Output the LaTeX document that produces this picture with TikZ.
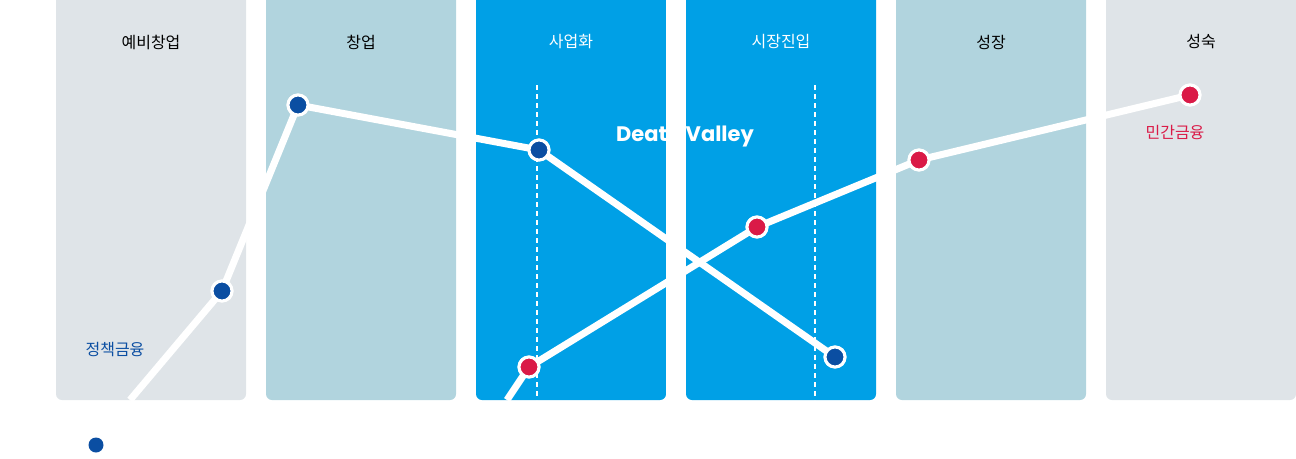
\documentclass[tikz,border=0pt]{standalone}
\usepackage{fontspec}
\setmainfont{Noto Sans CJK KR}
\newfontfamily\popfont{Poppins}
\definecolor{cgray}{HTML}{DFE4E8}
\definecolor{clblue}{HTML}{B1D4DE}
\definecolor{cblue}{HTML}{00A0E6}
\definecolor{dotblue}{HTML}{0B4EA2}
\definecolor{dotred}{HTML}{DA1A47}
\begin{document}
\begin{tikzpicture}[x=1pt,y=-1pt,
  col/.style={rounded corners=6pt},
  hdr/.style={font=\fontsize{16}{18}\selectfont},
  wline/.style={white,line width=7pt},
  bdot/.style={circle,fill=dotblue,draw=white,line width=3pt,minimum size=20pt,inner sep=0pt},
  rdot/.style={circle,fill=dotred,draw=white,line width=3pt,minimum size=20pt,inner sep=0pt},
  dline/.style={white,dashed,line width=1.2pt,dash pattern=on 5pt off 4pt}]
\useasboundingbox (0,0) rectangle (1296,458);
\foreach \x/\c/\t/\tc [count=\i] in {56/cgray/예비창업/black,266/clblue/창업/black,476/cblue/사업화/white,686/cblue/시장진입/white,896/clblue/성장/black,1106/cgray/성숙/black}{
  \fill[\c,col] (\x,-10) rectangle (\x+190,400);
  \node[hdr,text=\tc] (h\i) at (\x+95,42) {\t};
}
\draw[dline] (537,85) -- (537,400);
\draw[dline] (815,85) -- (815,400);
\node[font=\popfont\bfseries\fontsize{21}{24}\selectfont,text=white] (dv) at (685,137) {Death Valley};
\fill[white] (666,0) rectangle (686,400);
\coordinate (b0) at (130,400);
\node[bdot] (b1) at (222,291) {};
\node[bdot] (b2) at (298,105) {};
\node[bdot] (b3) at (539,150) {};
\node[bdot] (b4) at (835,357) {};
\coordinate (r0) at (507,400);
\node[rdot] (r1) at (529,367) {};
\node[rdot] (r2) at (757,227) {};
\node[rdot] (r3) at (919,160) {};
\node[rdot] (r4) at (1190,95) {};
\begin{scope}[on background layer/.style={}]
\draw[wline] (b0) -- (b1.center) -- (b2.center) -- (b3.center) -- (b4.center);
\draw[wline] (r0) -- (r1.center) -- (r2.center) -- (r3.center) -- (r4.center);
\end{scope}
\foreach \n/\p/\s in {b1/222,291/bdot,b2/298,105/bdot,b3/539,150/bdot,b4/835,357/bdot}{}
\node[bdot] at (b1) {};
\node[bdot] at (b2) {};
\node[bdot] at (b3) {};
\node[bdot] at (b4) {};
\node[rdot] at (r1) {};
\node[rdot] at (r2) {};
\node[rdot] at (r3) {};
\node[rdot] at (r4) {};
\node[hdr,text=dotblue] (l1) at (115,350) {정책금융};
\node[hdr,text=dotred] (l2) at (1175,132) {민간금융};
\node[circle,fill=dotblue,minimum size=15pt,inner sep=0pt] (leg) at (96,445) {};
\end{tikzpicture}
\end{document}
